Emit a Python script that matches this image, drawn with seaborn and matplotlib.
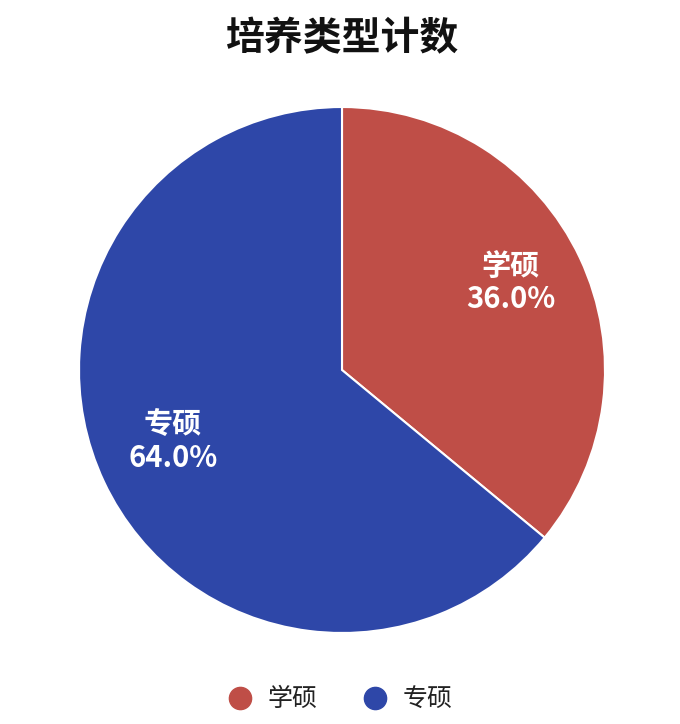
import matplotlib
matplotlib.use('Agg')
import matplotlib.pyplot as plt
from matplotlib.lines import Line2D
import seaborn as sns

# data
categories = ['学硕', '专硕']
counts = [36, 64]
colors = ['#BF4E47', '#2E47A8']
chart_title = '培养类型计数'

sns.set_theme(style='white')
plt.rcParams['font.family'] = ['Noto Sans CJK SC', 'DejaVu Sans']

fig = plt.figure(figsize=(6.8, 7.24), dpi=100)
ax = fig.add_axes([0.1162, 0.1257, 0.7735, 0.7265])

labels_iter = iter(categories)


def fmt(pct):
    return f'{next(labels_iter)}\n{pct:.1f}%'


wedges, texts, autotexts = ax.pie(
    counts, colors=colors, startangle=90, counterclock=False,
    autopct=fmt, pctdistance=0.71, radius=1,
    wedgeprops=dict(edgecolor='white', linewidth=1.5),
)
for t in autotexts:
    t.set_color('white')
    t.set_fontsize(21)
    t.set_fontweight('bold')
    t.set_linespacing(1.12)
    x, y = t.get_position()
    t.set_position((x, y + 0.03))

ax.set_xlim(-1, 1)
ax.set_ylim(-1, 1)
ax.set_aspect('equal')
ax.axis('off')

fig.text(0.503, 0.947, chart_title, ha='center', va='center',
         fontsize=28, fontweight='bold', color='#111111')

handles = [Line2D([0], [0], marker='o', linestyle='', markersize=16,
                  markerfacecolor=c, markeredgecolor=c) for c in colors]
fig.legend(handles, categories, loc='center', bbox_to_anchor=(0.5, 0.034),
           ncol=2, frameon=False, fontsize=18, handlelength=1.0,
           handletextpad=0.6, columnspacing=1.8, labelcolor='#222222')

fig.savefig('out.png', dpi=100, facecolor='white')
